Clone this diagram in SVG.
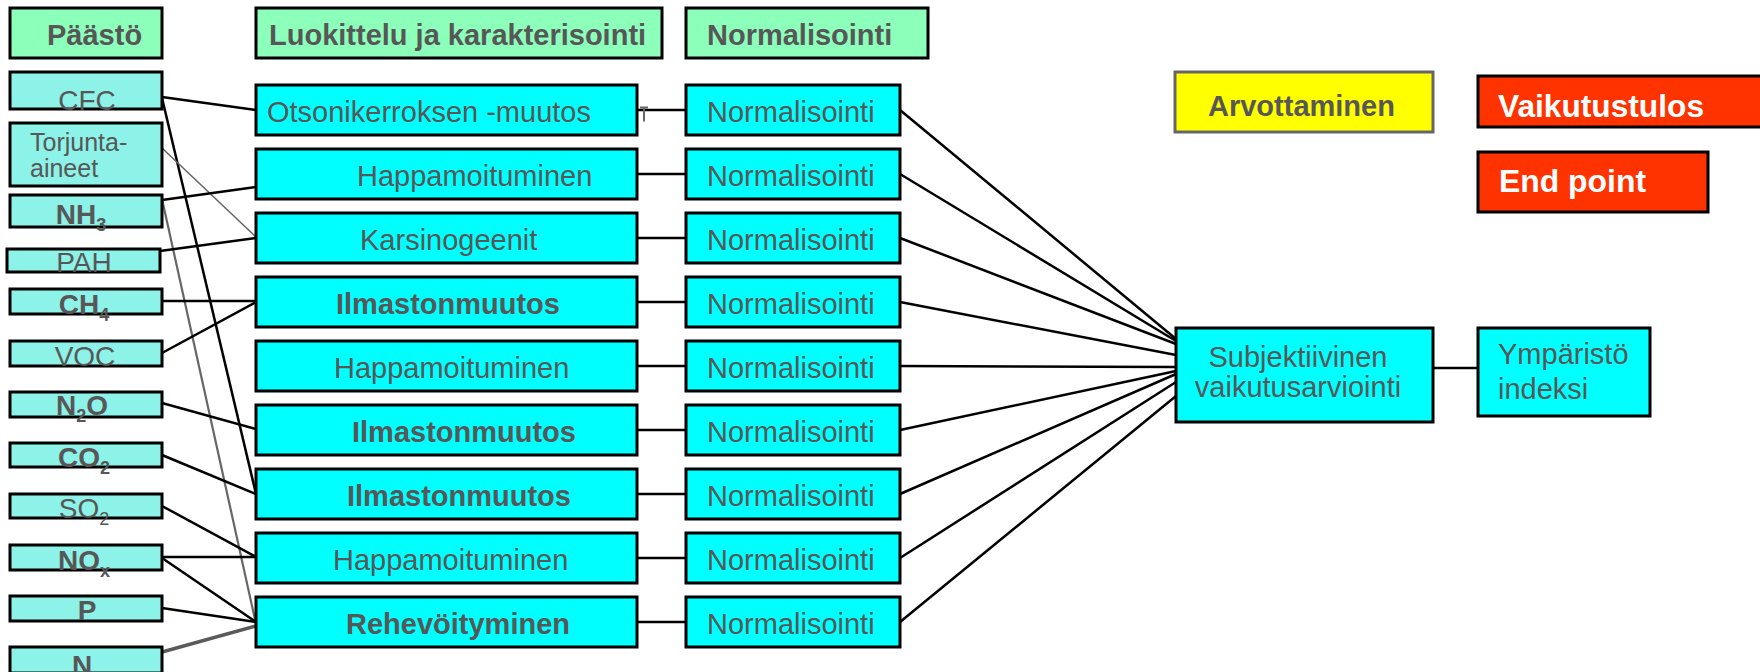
<svg xmlns="http://www.w3.org/2000/svg" width="1760" height="672" viewBox="0 0 1760 672">
<style>
text{font-family:"Liberation Sans",Arial,sans-serif;fill:#575757;font-size:29px}
.b{font-weight:bold}
.hdr{fill:#8CFFBA;stroke:#000;stroke-width:3}
.em{fill:#8DF2E8;stroke:#000;stroke-width:3}
.cy{fill:#00FFFF;stroke:#000;stroke-width:3}
.red{fill:#FF3300;stroke:#000;stroke-width:3}
.yel{fill:#FFFF00;stroke:#666;stroke-width:3}
.et{font-size:28px;text-anchor:middle}
.sub{font-size:18px}
.w{fill:#fff;font-size:31px}
.c line{stroke:#000;stroke-width:2.5}
.c line.g{stroke:#666;stroke-width:1.6}
.c line.g2{stroke:#666;stroke-width:2.2}
.c line.g3{stroke:#5a5a5a;stroke-width:3.5}
</style>
<rect width="1760" height="672" fill="#fff"/>
<g class="c" id="connectors">
<line x1="162" y1="97" x2="256" y2="110"/>
<line x1="162" y1="98" x2="256" y2="494"/>
<line class="g" x1="162" y1="148" x2="256" y2="237"/>
<line x1="162" y1="200" x2="256" y2="187"/>
<line class="g2" x1="162" y1="199" x2="256" y2="624"/>
<line x1="160" y1="251" x2="256" y2="238"/>
<line x1="162" y1="301" x2="256" y2="301"/>
<line x1="162" y1="353" x2="256" y2="302"/>
<line x1="162" y1="403" x2="256" y2="429"/>
<line x1="162" y1="455" x2="256" y2="494"/>
<line x1="162" y1="506" x2="256" y2="557"/>
<line x1="162" y1="557" x2="256" y2="557"/>
<line x1="162" y1="558" x2="256" y2="622"/>
<line x1="162" y1="608" x2="256" y2="622"/>
<line class="g3" x1="162" y1="652" x2="256" y2="626"/>
<line x1="637" y1="110" x2="686" y2="110"/>
<line x1="637" y1="174" x2="686" y2="174"/>
<line x1="637" y1="238" x2="686" y2="238"/>
<line x1="637" y1="302" x2="686" y2="302"/>
<line x1="637" y1="366" x2="686" y2="366"/>
<line x1="637" y1="430" x2="686" y2="430"/>
<line x1="637" y1="494" x2="686" y2="494"/>
<line x1="637" y1="558" x2="686" y2="558"/>
<line x1="637" y1="622" x2="686" y2="622"/>
<line x1="900" y1="110" x2="1176" y2="339"/>
<line x1="900" y1="174" x2="1176" y2="341"/>
<line x1="900" y1="238" x2="1176" y2="344"/>
<line x1="900" y1="302" x2="1176" y2="355"/>
<line x1="900" y1="366" x2="1176" y2="367"/>
<line x1="900" y1="430" x2="1176" y2="371"/>
<line x1="900" y1="494" x2="1176" y2="374"/>
<line x1="900" y1="558" x2="1176" y2="382"/>
<line x1="900" y1="622" x2="1176" y2="396"/>
<line x1="1433" y1="368" x2="1478" y2="368"/>
<path d="M640 107.5h8M644 107.5v14" stroke="#666" stroke-width="2" fill="none"/>
</g>
<g id="h-paasto"><rect class="hdr" x="10" y="8" width="152" height="50"/><text class="b" x="47" y="45">Päästö</text></g>
<g id="h-luokittelu"><rect class="hdr" x="256" y="8" width="406" height="50"/><text class="b" x="269" y="45">Luokittelu ja karakterisointi</text></g>
<g id="h-normalisointi"><rect class="hdr" x="686" y="8" width="242" height="50"/><text class="b" x="707" y="45">Normalisointi</text></g>

<g id="e-cfc"><rect class="em" x="10" y="72" width="152" height="37"/><text class="et" x="87" y="110">CFC</text></g>
<g id="e-torjunta"><rect class="em" x="10" y="123" width="152" height="63"/><text x="30" y="151" style="font-size:25px">Torjunta-</text><text x="30" y="177" style="font-size:25px">aineet</text></g>
<g id="e-nh3"><rect class="em" x="10" y="195" width="152" height="32"/><text class="et b" x="81" y="224">NH<tspan class="sub" dy="7">3</tspan></text></g>
<g id="e-pah"><rect class="em" x="7" y="249" width="153" height="23"/><text class="et" x="84" y="272">PAH</text></g>
<g id="e-ch4"><rect class="em" x="10" y="289" width="152" height="25"/><text class="et b" x="84" y="314">CH<tspan class="sub" dy="7">4</tspan></text></g>
<g id="e-voc"><rect class="em" x="10" y="341" width="152" height="25"/><text class="et" x="85" y="366">VOC</text></g>
<g id="e-n2o"><rect class="em" x="10" y="392" width="152" height="25"/><text class="et b" x="82" y="415">N<tspan class="sub" dy="7">2</tspan><tspan dy="-7">O</tspan></text></g>
<g id="e-co2"><rect class="em" x="10" y="443" width="152" height="24"/><text class="et b" x="84" y="467">CO<tspan class="sub" dy="7">2</tspan></text></g>
<g id="e-so2"><rect class="em" x="10" y="494" width="152" height="24"/><text class="et" x="84" y="518">SO<tspan class="sub" dy="7">2</tspan></text></g>
<g id="e-nox"><rect class="em" x="10" y="545" width="152" height="25"/><text class="et b" x="84" y="570">NO<tspan class="sub" dy="7">x</tspan></text></g>
<g id="e-p"><rect class="em" x="10" y="596" width="152" height="25"/><text class="et b" x="87" y="620">P</text></g>
<g id="e-n"><rect class="em" x="10" y="647" width="152" height="26"/><text class="et b" x="82" y="675">N</text></g>

<g id="c1"><rect class="cy" x="256" y="85" width="381" height="50"/><text x="267" y="122">Otsonikerroksen -muutos</text></g>
<g id="c2"><rect class="cy" x="256" y="149" width="381" height="50"/><text x="357" y="186">Happamoituminen</text></g>
<g id="c3"><rect class="cy" x="256" y="213" width="381" height="50"/><text x="360" y="250">Karsinogeenit</text></g>
<g id="c4"><rect class="cy" x="256" y="277" width="381" height="50"/><text class="b" x="336" y="314">Ilmastonmuutos</text></g>
<g id="c5"><rect class="cy" x="256" y="341" width="381" height="50"/><text x="334" y="378">Happamoituminen</text></g>
<g id="c6"><rect class="cy" x="256" y="405" width="381" height="50"/><text class="b" x="352" y="442">Ilmastonmuutos</text></g>
<g id="c7"><rect class="cy" x="256" y="469" width="381" height="50"/><text class="b" x="347" y="506">Ilmastonmuutos</text></g>
<g id="c8"><rect class="cy" x="256" y="533" width="381" height="50"/><text x="333" y="570">Happamoituminen</text></g>
<g id="c9"><rect class="cy" x="256" y="597" width="381" height="50"/><text class="b" x="346" y="634">Rehevöityminen</text></g>

<g id="n1"><rect class="cy" x="686" y="85" width="214" height="50"/><text x="707" y="122">Normalisointi</text></g>
<g id="n2"><rect class="cy" x="686" y="149" width="214" height="50"/><text x="707" y="186">Normalisointi</text></g>
<g id="n3"><rect class="cy" x="686" y="213" width="214" height="50"/><text x="707" y="250">Normalisointi</text></g>
<g id="n4"><rect class="cy" x="686" y="277" width="214" height="50"/><text x="707" y="314">Normalisointi</text></g>
<g id="n5"><rect class="cy" x="686" y="341" width="214" height="50"/><text x="707" y="378">Normalisointi</text></g>
<g id="n6"><rect class="cy" x="686" y="405" width="214" height="50"/><text x="707" y="442">Normalisointi</text></g>
<g id="n7"><rect class="cy" x="686" y="469" width="214" height="50"/><text x="707" y="506">Normalisointi</text></g>
<g id="n8"><rect class="cy" x="686" y="533" width="214" height="50"/><text x="707" y="570">Normalisointi</text></g>
<g id="n9"><rect class="cy" x="686" y="597" width="214" height="50"/><text x="707" y="634">Normalisointi</text></g>

<g id="arvottaminen"><rect class="yel" x="1175" y="72" width="258" height="60"/><text class="b" x="1208" y="116">Arvottaminen</text></g>
<g id="vaikutustulos"><rect class="red" x="1478" y="76" width="290" height="51"/><text class="b w" x="1498" y="117" textLength="206" lengthAdjust="spacingAndGlyphs">Vaikutustulos</text></g>
<g id="endpoint"><rect class="red" x="1478" y="152" width="230" height="60"/><text class="b w" x="1499" y="192" textLength="147" lengthAdjust="spacingAndGlyphs">End point</text></g>
<g id="subjektiivinen"><rect class="cy" x="1176" y="328" width="257" height="94"/><text x="1298" y="367" text-anchor="middle">Subjektiivinen</text><text x="1298" y="397" text-anchor="middle">vaikutusarviointi</text></g>
<g id="ymparisto"><rect class="cy" x="1478" y="328" width="172" height="88"/><text x="1498" y="364">Ympäristö</text><text x="1498" y="399">indeksi</text></g>
</svg>
